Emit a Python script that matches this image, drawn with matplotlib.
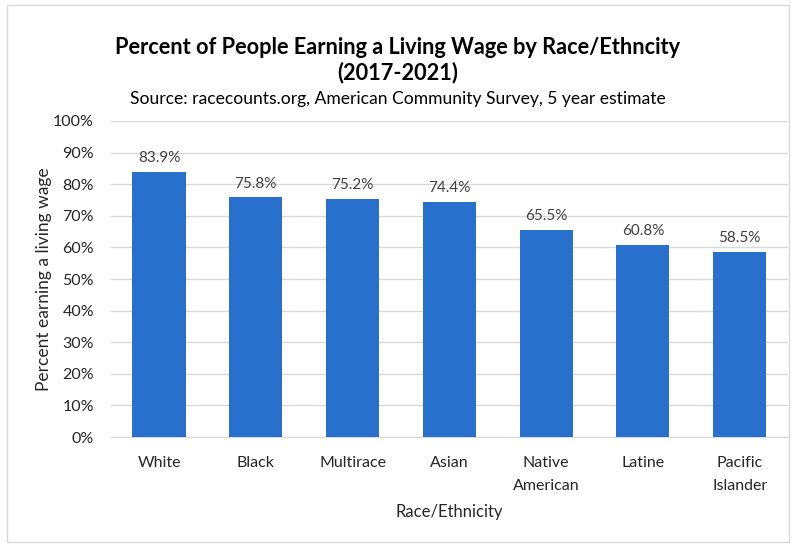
import matplotlib.pyplot as plt
from matplotlib.patches import Rectangle
from matplotlib.ticker import PercentFormatter

plt.rcParams['font.family'] = ['Lato', 'DejaVu Sans']

# Living wage share by group, 2017-2021 (percent)
groups = ['White', 'Black', 'Multirace', 'Asian', 'Native\nAmerican', 'Latine', 'Pacific\nIslander']
pct_living_wage = [83.9, 75.8, 75.2, 74.4, 65.5, 60.8, 58.5]

bar_color = '#2870CC'
text_color = '#262626'

fig = plt.figure(figsize=(7.96, 5.46), dpi=100)
ax = fig.add_axes([0.139, 0.1996, 0.851, 0.5788])

x = range(len(groups))
bars = ax.bar(x, pct_living_wage, width=0.55, color=bar_color, zorder=3)
for b, v in zip(bars, pct_living_wage):
    ax.text(b.get_x() + b.get_width() / 2, v + 2.2, f'{v:.1f}%',
            ha='center', va='bottom', fontsize=11, color='#404040')

ax.set_ylim(0, 100)
ax.set_xlim(-0.5, len(groups) - 0.5)
ax.set_yticks(range(0, 101, 10))
ax.yaxis.set_major_formatter(PercentFormatter(decimals=0))
ax.set_xticks(list(x))
ax.set_xticklabels(groups, fontsize=11.5, color=text_color, linespacing=1.75)
ax.tick_params(axis='y', labelsize=11.5, labelcolor=text_color, length=0, pad=12)
ax.tick_params(axis='x', length=0, pad=14)
ax.grid(axis='y', color='#D9D9D9', linewidth=1, zorder=0)
for s in ['top', 'right', 'left']:
    ax.spines[s].set_visible(False)
ax.spines['bottom'].set_color('#D9D9D9')

ax.set_ylabel('Percent earning a living wage', fontsize=12.5, color=text_color, labelpad=1)
ax.set_xlabel('Race/Ethnicity', fontsize=12, color=text_color, labelpad=8)

fig.text(0.5, 1 - 47 / 546, 'Percent of People Earning a Living Wage by Race/Ethncity',
         ha='center', va='center', fontsize=15.7, fontweight='bold', color='black')
fig.text(0.5, 1 - 73 / 546, '(2017-2021)',
         ha='center', va='center', fontsize=15.7, fontweight='bold', color='black')
fig.text(0.5, 1 - 99 / 546, 'Source: racecounts.org, American Community Survey, 5 year estimate',
         ha='center', va='center', fontsize=12.6, color='black')

# thin chart frame
fig.patches.append(Rectangle((7 / 796, 4 / 546), 782 / 796, 537 / 546, transform=fig.transFigure,
                             fill=False, edgecolor='#D9D9D9', linewidth=1))

fig.savefig('out.png', dpi=100)
